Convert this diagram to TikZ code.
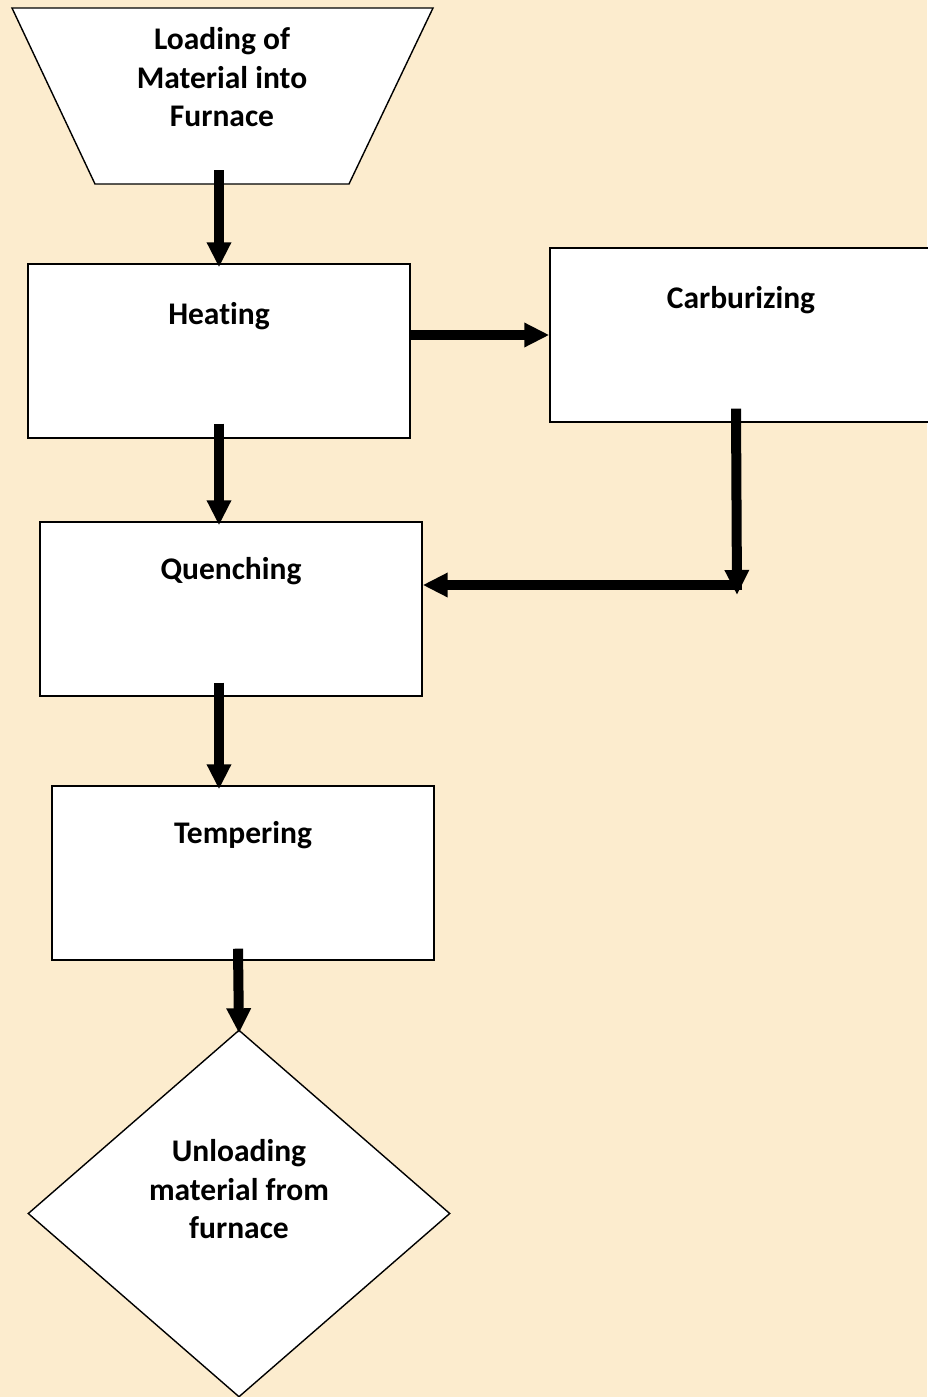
\documentclass[tikz,border=0pt]{standalone}
\usepackage{fontspec}
\setmainfont{Carlito}[Ligatures=NoCommon]
\usetikzlibrary{arrows.meta,calc,positioning,shapes.geometric}
\definecolor{PaperClr}{RGB}{252,236,206}

\begin{document}
\begin{tikzpicture}[x=1pt,y=-1pt,
  every node/.style={font=\bfseries\fontsize{31.5}{38.5}\selectfont},
  outline/.style={draw,line width=1.4pt,fill=white},
  box/.style={outline,inner sep=0pt,
    minimum width=382pt,text height=60pt,text depth=114pt},
  txt/.style={align=center,inner sep=0pt},
  flow/.style={line width=10pt,-{Triangle[width=23pt,length=25pt]}}]

\fill[PaperClr] (0,0) rectangle (927,1397);
\useasboundingbox (0,0) rectangle (927,1397);

% loading hopper
\draw[outline] (12,8) -- (433,8) -- (349,184) -- (95,184) -- cycle;
\node[txt] (load) at (222,77.5) {Loading of\\Material into\\Furnace};
\coordinate (loadB) at (219,170);

\node[box] (heat) at (219,351) {Heating};
\node[box] (carb) at (741,335) {Carburizing};
\node[box,text height=57pt,text depth=117pt] (quench) at (231,609) {Quenching};
\node[box,text height=57pt,text depth=117pt] (temper) at (243,873) {Tempering};

\node[outline,diamond,inner sep=0pt,
  minimum width=422pt,minimum height=367pt] (unload) at (239,1213.5) {};
\node[txt] (unloadT) at ([yshift=24pt]unload.center) {Unloading\\material from\\furnace};

\coordinate (corner) at (737,585);

% arrows
\draw[flow] (loadB) -- ([yshift=-4pt]heat.north);
\draw[flow] (heat.east |- carb.west) -- (carb.west);
\draw[flow] ([yshift=15pt]heat.south) -- ([yshift=-4pt]heat.south |- quench.north);
\draw[flow] ([xshift=-5pt,yshift=14pt]carb.south) -- ([yshift=-10pt]corner);
\draw[flow] ([xshift=5pt]corner) -- (quench.east |- corner);
\draw[flow] ([xshift=-12pt,yshift=14pt]quench.south) -- ([xshift=-24pt,yshift=-4pt]temper.north);
\draw[flow] ([xshift=-5pt,yshift=12pt]temper.south) -- ([yshift=-4pt]unload.north);

\end{tikzpicture}
\end{document}
